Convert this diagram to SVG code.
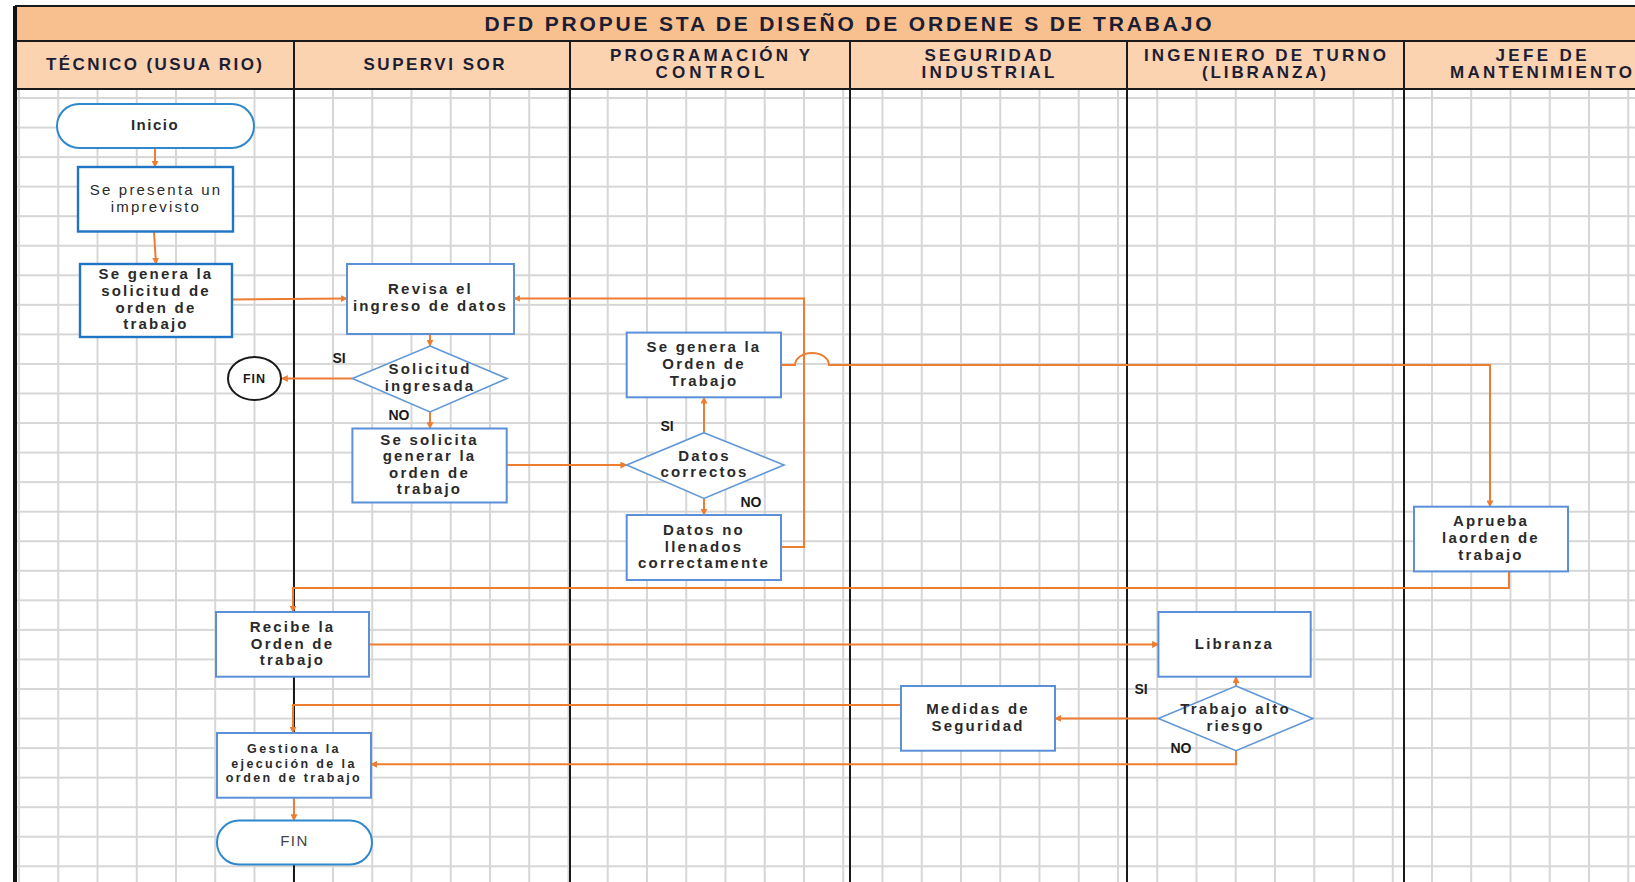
<svg xmlns="http://www.w3.org/2000/svg" width="1635" height="882" viewBox="0 0 1635 882">
  <style>
    .hdr { font-family: "Liberation Sans", Arial, sans-serif; font-weight: bold; fill: #1d1d33; text-anchor: middle; }
    .title { font-size: 21px; }
    .lane { font-size: 17px; }
    .box { fill: #ffffff; stroke: #5b8fd8; stroke-width: 2; }
    .box-dark { fill: #ffffff; stroke: #1f74c4; stroke-width: 2.4; }
    .term { fill: #ffffff; stroke: #2f87cc; stroke-width: 2; }
    .dia { fill: #ffffff; stroke: #5f98d8; stroke-width: 1.6; }
    .t { font-family: "Liberation Sans", Arial, sans-serif; font-size: 15px; font-weight: bold; letter-spacing: 2.2px; fill: #2a2a2a; text-anchor: middle; }
    .t-reg { font-weight: normal; }
    .t-sm { font-size: 12.5px; letter-spacing: 2.4px; }
    .lbl { font-family: "Liberation Sans", Arial, sans-serif; font-size: 14px; font-weight: bold; fill: #1a1a1a; text-anchor: middle; }
    .lane-line { stroke: #1a1a1a; stroke-width: 2; fill: none; }
    .conn path { fill: none; stroke: #ed7d31; stroke-width: 2; }
    .conn path.arr { marker-end: url(#arrow); }
  </style>
  <defs>
    <pattern id="grid" x="18" y="97" width="39.25" height="29.55" patternUnits="userSpaceOnUse">
      <path d="M0 1H39.25M1 0V29.55" stroke="#d6d6d6" stroke-width="2" fill="none"/>
    </pattern>
    <marker id="arrow" viewBox="0 0 10 10" refX="9" refY="5" markerWidth="7" markerHeight="7" markerUnits="userSpaceOnUse" orient="auto">
      <path d="M0 0L10 5L0 10z" fill="#ed7d31"/>
    </marker>
  </defs>

  <!-- sheet background and grid -->
  <rect x="0" y="0" width="1635" height="882" fill="#ffffff"/>
  <rect x="15" y="89" width="1620" height="793" fill="url(#grid)"/>

  <!-- header bands -->
  <g id="header">
    <rect x="15" y="6" width="1620" height="35" fill="#f8bf8f"/>
    <rect x="15" y="41" width="1620" height="48" fill="#fbd3b1"/>
    <path class="lane-line" d="M15 6H1635M15 41H1635M15 89H1635"/>
    <text class="hdr title" x="848" y="30.5" textLength="727" lengthAdjust="spacing">DFD PROPUE STA DE DISEÑO DE ORDENE S DE TRABAJO</text>
    <text class="hdr lane" x="154" y="70" textLength="216" lengthAdjust="spacing">TÉCNICO (USUA RIO)</text>
    <text class="hdr lane" x="434" y="70" textLength="141" lengthAdjust="spacing">SUPERVI SOR</text>
    <text class="hdr lane" x="710" y="60.5" textLength="200" lengthAdjust="spacing">PROGRAMACIÓN Y</text>
    <text class="hdr lane" x="710" y="78" textLength="109" lengthAdjust="spacing">CONTROL</text>
    <text class="hdr lane" x="988" y="60.5" textLength="127" lengthAdjust="spacing">SEGURIDAD</text>
    <text class="hdr lane" x="988" y="78" textLength="133" lengthAdjust="spacing">INDUSTRIAL</text>
    <text class="hdr lane" x="1265" y="60.5" textLength="242" lengthAdjust="spacing">INGENIERO DE TURNO</text>
    <text class="hdr lane" x="1264" y="78" textLength="124" lengthAdjust="spacing">(LIBRANZA)</text>
    <text class="hdr lane" x="1541" y="60.5" textLength="91" lengthAdjust="spacing">JEFE DE</text>
    <text class="hdr lane" x="1541" y="78" textLength="182" lengthAdjust="spacing">MANTENIMIENTO</text>
  </g>

  <!-- swimlane borders -->
  <g id="lanes">
    <path d="M15 6V882" stroke="#111111" stroke-width="4" fill="none"/>
    <path class="lane-line" d="M294 41V882M570 41V882M850 41V882M1127 41V882M1404 41V882"/>
  </g>

  <!-- connectors -->
  <g id="connectors" class="conn">
    <path class="arr" d="M155 148V167"/>
    <path class="arr" d="M154 231.5L156 264"/>
    <path class="arr" d="M231.5 299.5L347 298.5"/>
    <path class="arr" d="M430 334V346"/>
    <path class="arr" d="M352.4 378.5H281.5"/>
    <path class="arr" d="M430 412V428.5"/>
    <path class="arr" d="M506.7 465H626.7"/>
    <path class="arr" d="M704 432.7V397.3"/>
    <path class="arr" d="M704 498.4V515"/>
    <path class="arr" d="M781 547H804V298.5H514"/>
    <path class="arr" d="M781 365H795A17 12 0 0 1 829 365H1490V506.7"/>
    <path class="arr" d="M1509 571.4V588H293V612"/>
    <path class="arr" d="M369 644.4H1158.4"/>
    <path class="arr" d="M1236 686V676.7"/>
    <path class="arr" d="M1158.4 718.4H1055"/>
    <path class="arr" d="M901 705H293V733"/>
    <path class="arr" d="M1236 750.7V764.3H371"/>
    <path class="arr" d="M294 797.7V820.6"/>
  </g>

  <!-- TÉCNICO (USUARIO) lane -->
  <g id="n-inicio">
    <rect class="term" x="57" y="104" width="197" height="44" rx="22"/>
    <text class="t" x="155" y="130" style="letter-spacing:1.5px">Inicio</text>
  </g>
  <g id="n-imprevisto">
    <rect class="box-dark" x="78" y="167" width="155" height="64.5"/>
    <text class="t t-reg" x="156" y="195">Se presenta un</text>
    <text class="t t-reg" x="156" y="211.5">imprevisto</text>
  </g>
  <g id="n-solicitud">
    <rect class="box-dark" x="80" y="264" width="152" height="73"/>
    <text class="t" x="156" y="279">Se genera la</text>
    <text class="t" x="156" y="296">solicitud de</text>
    <text class="t" x="156" y="312.6">orden de</text>
    <text class="t" x="156" y="329">trabajo</text>
  </g>
  <g id="n-fin-circulo">
    <ellipse cx="254.5" cy="378.5" rx="26.5" ry="21.5" fill="#ffffff" stroke="#1a1a1a" stroke-width="2"/>
    <text class="lbl" x="254.5" y="383" style="font-size:12.5px;letter-spacing:1px">FIN</text>
  </g>
  <g id="n-recibe">
    <rect class="box" x="216" y="612" width="153" height="64.7"/>
    <text class="t" x="292.5" y="632">Recibe la</text>
    <text class="t" x="292.5" y="648.5">Orden de</text>
    <text class="t" x="292.5" y="665">trabajo</text>
  </g>
  <g id="n-gestiona">
    <rect class="box" x="217" y="733" width="154" height="64.7"/>
    <text class="t t-sm" x="294" y="753">Gestiona la</text>
    <text class="t t-sm" x="294" y="767.5">ejecución de la</text>
    <text class="t t-sm" x="294" y="782">orden de trabajo</text>
  </g>
  <g id="n-fin">
    <rect class="term" x="217" y="820.6" width="155" height="43.8" rx="21.9"/>
    <text class="t t-reg" x="294.5" y="845.5" style="fill:#444444;letter-spacing:1.5px">FIN</text>
  </g>

  <!-- SUPERVISOR lane -->
  <g id="n-revisa">
    <rect class="box" x="347" y="264" width="167" height="70"/>
    <text class="t" x="430.5" y="294">Revisa el</text>
    <text class="t" x="430.5" y="310.5">ingreso de datos</text>
  </g>
  <g id="n-ingresada">
    <polygon class="dia" points="430,346 507,378.5 430,412 352.4,378.5"/>
    <text class="t" x="430" y="374">Solicitud</text>
    <text class="t" x="430" y="391">ingresada</text>
    <text class="lbl" x="339" y="363">SI</text>
    <text class="lbl" x="399" y="419.5">NO</text>
  </g>
  <g id="n-solicita">
    <rect class="box" x="352.4" y="428.5" width="154.3" height="74"/>
    <text class="t" x="429.5" y="445">Se solicita</text>
    <text class="t" x="429.5" y="461">generar la</text>
    <text class="t" x="429.5" y="477.5">orden de</text>
    <text class="t" x="429.5" y="494">trabajo</text>
  </g>

  <!-- PROGRAMACIÓN Y CONTROL lane -->
  <g id="n-genera-orden">
    <rect class="box" x="626.7" y="332.6" width="154.3" height="64.7"/>
    <text class="t" x="704" y="352">Se genera la</text>
    <text class="t" x="704" y="369">Orden de</text>
    <text class="t" x="704" y="385.6">Trabajo</text>
  </g>
  <g id="n-datos-correctos">
    <polygon class="dia" points="704,432.7 784,465 704,498.4 626.7,465"/>
    <text class="t" x="704.5" y="461">Datos</text>
    <text class="t" x="704.5" y="477">correctos</text>
    <text class="lbl" x="667" y="430.5">SI</text>
    <text class="lbl" x="751" y="507">NO</text>
  </g>
  <g id="n-datos-no">
    <rect class="box" x="626.7" y="515" width="154.3" height="65"/>
    <text class="t" x="704" y="535">Datos no</text>
    <text class="t" x="704" y="551.5">llenados</text>
    <text class="t" x="704" y="568">correctamente</text>
  </g>

  <!-- INGENIERO DE TURNO lane -->
  <g id="n-libranza">
    <rect class="box" x="1158.4" y="612" width="152.3" height="64.7"/>
    <text class="t" x="1234.5" y="648.5">Libranza</text>
  </g>
  <g id="n-alto-riesgo">
    <polygon class="dia" points="1236,686 1312.8,718.4 1236,750.7 1158.4,718.4"/>
    <text class="t" x="1235.5" y="714">Trabajo alto</text>
    <text class="t" x="1235.5" y="731">riesgo</text>
    <text class="lbl" x="1141" y="694">SI</text>
    <text class="lbl" x="1181" y="753">NO</text>
  </g>

  <!-- SEGURIDAD INDUSTRIAL lane -->
  <g id="n-medidas">
    <rect class="box" x="901" y="686" width="154" height="64.7"/>
    <text class="t" x="978" y="714">Medidas de</text>
    <text class="t" x="978" y="731">Seguridad</text>
  </g>

  <!-- JEFE DE MANTENIMIENTO lane -->
  <g id="n-aprueba">
    <rect class="box" x="1414" y="506.7" width="154" height="64.7"/>
    <text class="t" x="1491" y="526">Aprueba</text>
    <text class="t" x="1491" y="543">laorden de</text>
    <text class="t" x="1491" y="560">trabajo</text>
  </g>
</svg>
